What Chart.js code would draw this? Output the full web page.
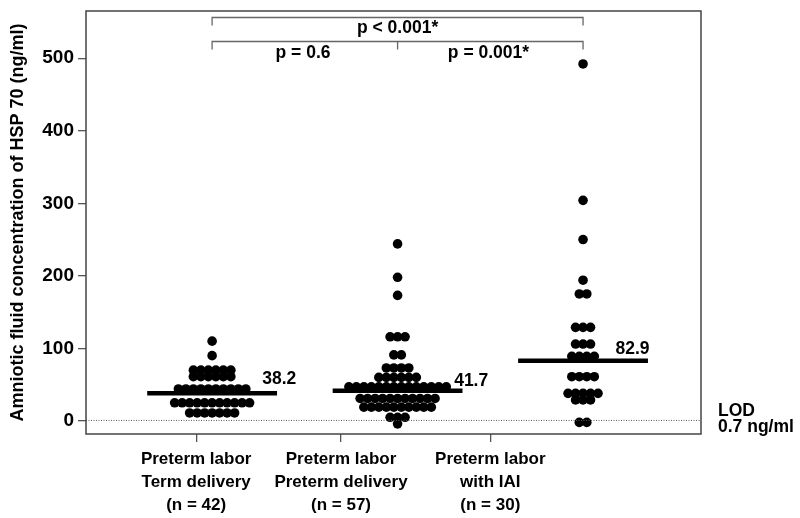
<!DOCTYPE html>
<html>
<head>
<meta charset="utf-8">
<script src="https://cdn.jsdelivr.net/npm/chart.js@4/dist/chart.umd.min.js"></script>
<style>
html, body { margin: 0; padding: 0; background: #fff; }
</style>
</head>
<body>
<canvas id="hsp70_dotplot" width="800" height="518"></canvas>
<script>
// values (ng/ml)
const group_labels = [
    ['Preterm labor', 'Term delivery', '(n = 42)'],
    ['Preterm labor', 'Preterm delivery', '(n = 57)'],
    ['Preterm labor', 'with IAI', '(n = 30)']
];
const group_positions = [1, 2, 3];

const term_delivery = [
    110, 90,
    70, 70, 70, 70, 70, 70,
    61, 61, 61, 61, 61, 61,
    44, 44, 44, 44, 44, 44, 44, 44, 44, 44,
    25, 25, 25, 25, 25, 25, 25, 25, 25, 25, 25,
    11, 11, 11, 11, 11, 11, 11
];
const preterm_delivery = [
    244, 198, 173,
    116, 116, 116,
    91, 91,
    73, 73, 73, 73,
    60, 60, 60, 60, 60, 60,
    47, 47, 47, 47, 47, 47, 47, 47, 47, 47, 47, 47, 47, 47,
    31, 31, 31, 31, 31, 31, 31, 31, 31, 31, 31,
    19, 19, 19, 19, 19, 19, 19, 19, 19, 19,
    5, 5, 5,
    -4
];
const with_iai = [
    492, 304, 250, 194,
    175, 175,
    129, 129, 129,
    106, 106, 106,
    89, 89, 89, 89,
    61, 61, 61, 61,
    38, 38, 38, 38, 38,
    29, 29, 29,
    -2, -2
];

const medians = [38.2, 41.7, 82.9];
const y_ticks = [0, 100, 200, 300, 400, 500];
const lod_value = 0.7;
const p_texts = ['p = 0.6', 'p = 0.001*', 'p < 0.001*'];

const sans = "'Liberation Sans', Arial, Helvetica, sans-serif";
const dot_step = 0.0404;

function swarm(values, center) {
    const counts = {};
    values.forEach(v => counts[v] = (counts[v] || 0) + 1);
    const seen = {};
    return values.map(v => {
        seen[v] = (seen[v] === undefined) ? 0 : seen[v] + 1;
        return { x: center + (seen[v] - (counts[v] - 1) / 2) * dot_step, y: v };
    });
}

const all_groups = [term_delivery, preterm_delivery, with_iai];
const dot_points = [];
all_groups.forEach((vals, i) => dot_points.push(...swarm(vals, group_positions[i])));

const median_sets = medians.map((m, i) => ({
    type: 'line',
    data: [{ x: group_positions[i] - 0.35, y: m }, { x: group_positions[i] + 0.35, y: m }],
    borderColor: '#000',
    borderWidth: 4.5,
    pointRadius: 0,
    order: 1
}));

const x_min = 0.32, x_max = 3.636;
const label_positions = [0.914, 1.695, 2.5];

const extras = {
    id: 'extras',
    afterDatasetsDraw(chart) {
        const { ctx, chartArea: a, scales: { x, y } } = chart;
        ctx.save();
        ctx.strokeStyle = '#444';
        ctx.lineWidth = 1.5;
        ctx.strokeRect(a.left, a.top, a.right - a.left, a.bottom - a.top);

        // brackets
        ctx.strokeStyle = '#666';
        ctx.lineWidth = 1.3;
        const bracket = (x1, x2, yv, drop) => {
            const py = Math.round(y.getPixelForValue(yv)) + 0.5;
            const px1 = x.getPixelForValue(x1), px2 = x.getPixelForValue(x2);
            ctx.beginPath();
            ctx.moveTo(px1, py + drop); ctx.lineTo(px1, py);
            ctx.lineTo(px2, py); ctx.lineTo(px2, py + drop);
            ctx.stroke();
            return py;
        };
        bracket(1, 3, 556.5, 8);
        const py2 = bracket(1, 3, 523, 8);
        const mx = x.getPixelForValue(2);
        ctx.beginPath(); ctx.moveTo(mx, py2); ctx.lineTo(mx, py2 + 8); ctx.stroke();

        ctx.fillStyle = '#000';
        ctx.font = 'bold 17.5px ' + sans;
        ctx.textAlign = 'center';
        ctx.textBaseline = 'middle';
        ctx.fillText(p_texts[0], x.getPixelForValue(1.49), y.getPixelForValue(507));
        ctx.fillText(p_texts[1], x.getPixelForValue(2.49), y.getPixelForValue(507));
        ctx.fillText(p_texts[2], x.getPixelForValue(2), y.getPixelForValue(541.8));

        // median values
        const lab_dx = [0.27, 0.305, 0.175];
        const lab_dy = [-14, -10, -12];
        ctx.textAlign = 'left';
        medians.forEach((m, i) => {
            ctx.fillText(m.toFixed(1), x.getPixelForValue(group_positions[i] + lab_dx[i]),
                y.getPixelForValue(m) + lab_dy[i]);
        });

        // LOD note
        const ly = y.getPixelForValue(lod_value);
        ctx.fillText('LOD', a.right + 17, ly - 9);
        ctx.fillText('0.7 ng/ml', a.right + 17, ly + 7);
        ctx.restore();
    }
};

const config_hsp70 = {
    type: 'scatter',
    data: {
        datasets: [
            ...median_sets,
            {
                type: 'line',
                data: [{ x: x_min, y: lod_value }, { x: x_max, y: lod_value }],
                borderColor: '#555',
                borderWidth: 1,
                borderDash: [1, 1.5],
                pointRadius: 0,
                order: 2
            },
            {
                data: dot_points,
                backgroundColor: '#000',
                borderWidth: 0,
                pointRadius: 4.8,
                order: 3
            }
        ]
    },
    options: {
        responsive: false,
        animation: false,
        layout: { padding: { top: 11, right: 99, left: 0, bottom: 0 } },
        plugins: { legend: { display: false }, tooltip: { enabled: false } },
        scales: {
            x: {
                type: 'linear',
                min: x_min,
                max: x_max,
                afterBuildTicks: s => { s.ticks = label_positions.map(v => ({ value: v })); },
                afterFit: s => { s.height = 84; s.paddingLeft = 0; s.paddingRight = 0; },
                border: { display: false },
                grid: { drawOnChartArea: false, tickLength: 8, color: '#555', lineWidth: 1.3 },
                ticks: {
                    callback: (v, i) => group_labels[i],
                    font: { family: sans, size: 17, weight: 'bold', lineHeight: 1.36 },
                    color: '#000',
                    padding: 6,
                    maxRotation: 0,
                    autoSkip: false
                }
            },
            y: {
                min: -18,
                max: 565,
                afterBuildTicks: s => { s.ticks = y_ticks.map(v => ({ value: v })); },
                afterFit: s => { s.width = 86; s.paddingTop = 0; s.paddingBottom = 0; },
                border: { display: false },
                grid: { drawOnChartArea: false, tickLength: 8, color: '#555', lineWidth: 1.3 },
                ticks: { font: { family: sans, size: 19, weight: 'bold' }, color: '#000', padding: 4 },
                title: {
                    display: true,
                    text: 'Amniotic fluid concentration of HSP 70 (ng/ml)',
                    font: { family: sans, size: 18, weight: 'bold' },
                    color: '#000',
                    padding: { top: 7, bottom: 4 }
                }
            }
        }
    },
    plugins: [extras]
};

const grafico_hsp70 = new Chart(document.getElementById('hsp70_dotplot'), config_hsp70);
</script>
</body>
</html>
